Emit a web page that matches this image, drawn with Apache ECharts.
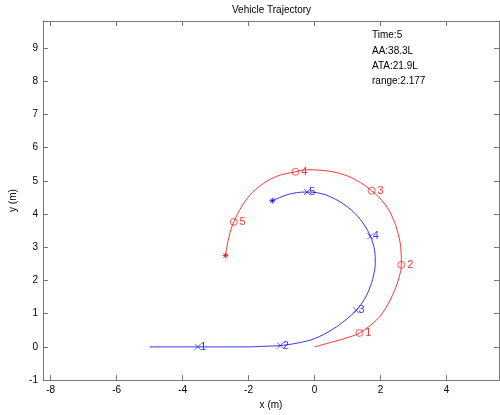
<!DOCTYPE html>
<html>
<head>
<meta charset="utf-8">
<script src="https://cdn.jsdelivr.net/npm/echarts@6/dist/echarts.min.js"></script>
<style>
  html, body { margin: 0; padding: 0; background: #fff; }
  #chart { width: 500px; height: 415px; }
</style>
</head>
<body>
<div id="chart"></div>
<script>
// path of the red vehicle (x, y in m)
const redPath = [
  [0, 0], [0.55, 0.15], [1.06, 0.30], [1.36, 0.42], [1.87, 0.80], [2.17, 1.19],
  [2.42, 1.69], [2.56, 2.09], [2.63, 2.47], [2.62, 2.89], [2.54, 3.38], [2.38, 3.86],
  [2.13, 4.30], [1.73, 4.70], [1.26, 5.02], [0.76, 5.22], [0.15, 5.32], [-0.25, 5.33],
  [-0.58, 5.27], [-1.16, 5.13], [-1.67, 4.83], [-2.07, 4.43], [-2.45, 3.76],
  [-2.60, 3.28], [-2.70, 2.75]
]
// path of the blue vehicle
const bluePath = [
  [-5, 0], [-3.54, 0], [-2, 0], [-1.5, 0.02], [-1.04, 0.04], [-0.5, 0.12], [0, 0.25],
  [0.55, 0.53], [0.95, 0.82], [1.26, 1.10], [1.52, 1.45], [1.70, 1.85], [1.80, 2.2],
  [1.84, 2.55], [1.82, 2.9], [1.69, 3.33], [1.50, 3.68], [1.25, 3.99], [0.96, 4.24],
  [0.64, 4.44], [0.22, 4.61], [-0.23, 4.66], [-0.55, 4.64], [-0.86, 4.57], [-1.28, 4.40]
]
const markLabels = ['1', '2', '3', '4', '5']
const redMarks = [[1.36, 0.42], [2.63, 2.47], [1.73, 4.70], [-0.58, 5.27], [-2.45, 3.76]]
const blueMarks = [[-3.54, 0], [-1.04, 0.04], [1.26, 1.10], [1.69, 3.33], [-0.23, 4.66]]
const redEnd = [[-2.70, 2.75]]
const blueEnd = [[-1.28, 4.40]]

const xTicks = [-8, -6, -4, -2, 0, 2, 4]
const yTicks = [-1, 0, 1, 2, 3, 4, 5, 6, 7, 8, 9]
const infoLines = ['Time:5', 'AA:38.3L', 'ATA:21.9L', 'range:2.177']

const FONT = 'Liberation Sans, Arial, sans-serif'
const AXIS = '#777'
const RED = '#ff0000'
const BLUE = '#0000ff'

const crossPath = 'path://M0,0L10,10M10,0L0,10'
const starPath = 'path://M5,0L5,10M0,5L10,5M1.5,1.5L8.5,8.5M8.5,1.5L1.5,8.5'

function boxAxis(pos, min, max, ticks, isMain) {
  return {
    type: 'value',
    position: pos,
    min: min,
    max: max,
    axisLine: { show: true, onZero: false, lineStyle: { color: AXIS, width: 1 } },
    axisTick: { show: true, inside: true, length: 5, customValues: ticks, lineStyle: { color: AXIS } },
    axisLabel: {
      show: isMain, customValues: ticks, color: '#000',
      fontSize: 10, fontFamily: FONT, margin: 5
    },
    splitLine: { show: false }
  }
}

function labelled(data) {
  return data.map((p, i) => ({ value: p, name: markLabels[i] }))
}

const chart = echarts.init(document.getElementById('chart'))

const xMain = boxAxis('bottom', -8.23, 5.59, xTicks, true)
xMain.name = 'x (m)'
xMain.nameLocation = 'middle'
xMain.nameGap = 19
xMain.nameTextStyle = { color: '#000', fontSize: 10, fontFamily: FONT }
const yMain = boxAxis('left', -1, 9.81, yTicks, true)
yMain.name = 'y (m)'
yMain.nameLocation = 'middle'
yMain.nameGap = 16
yMain.nameTextStyle = { color: '#000', fontSize: 10, fontFamily: FONT }

chart.setOption({
  animation: false,
  grid: { left: 43, right: 1, top: 21, bottom: 31 },
  xAxis: [xMain, boxAxis('top', -8.23, 5.59, xTicks, false)],
  yAxis: [yMain, boxAxis('right', -1, 9.81, yTicks, false)],
  graphic: [
    {
      type: 'text', left: 272 - 40, top: 5,
      style: { text: 'Vehicle Trajectory', font: '10px ' + FONT, fill: '#000' }
    },
    {
      type: 'text', left: 372, top: 28,
      style: { text: infoLines.join('\n'), font: '10px ' + FONT, lineHeight: 15.3, fill: '#000' }
    }
  ],
  series: [
    {
      type: 'line', data: bluePath, showSymbol: false, smooth: 0.4,
      lineStyle: { color: BLUE, width: 0.8 }
    },
    {
      type: 'line', data: redPath, showSymbol: false, smooth: 0.4,
      lineStyle: { color: RED, width: 0.8 }
    },
    {
      type: 'scatter', data: labelled(redMarks), symbol: 'circle', symbolSize: 7,
      itemStyle: { color: 'transparent', borderColor: RED, borderWidth: 0.8 },
      label: {
        show: true, position: 'right', distance: 2, formatter: '{b}',
        color: RED, fontSize: 11, fontFamily: FONT
      }
    },
    {
      type: 'scatter', data: labelled(blueMarks), symbol: crossPath, symbolSize: 6,
      itemStyle: { color: 'transparent', borderColor: BLUE, borderWidth: 0.8 },
      label: {
        show: true, position: 'right', distance: -1, formatter: '{b}',
        color: BLUE, fontSize: 11, fontFamily: FONT
      }
    },
    {
      type: 'scatter', data: redEnd, symbol: starPath, symbolSize: 6,
      itemStyle: { color: 'transparent', borderColor: RED, borderWidth: 1 }
    },
    {
      type: 'scatter', data: blueEnd, symbol: starPath, symbolSize: 6,
      itemStyle: { color: 'transparent', borderColor: BLUE, borderWidth: 1 }
    }
  ]
})
</script>
</body>
</html>
